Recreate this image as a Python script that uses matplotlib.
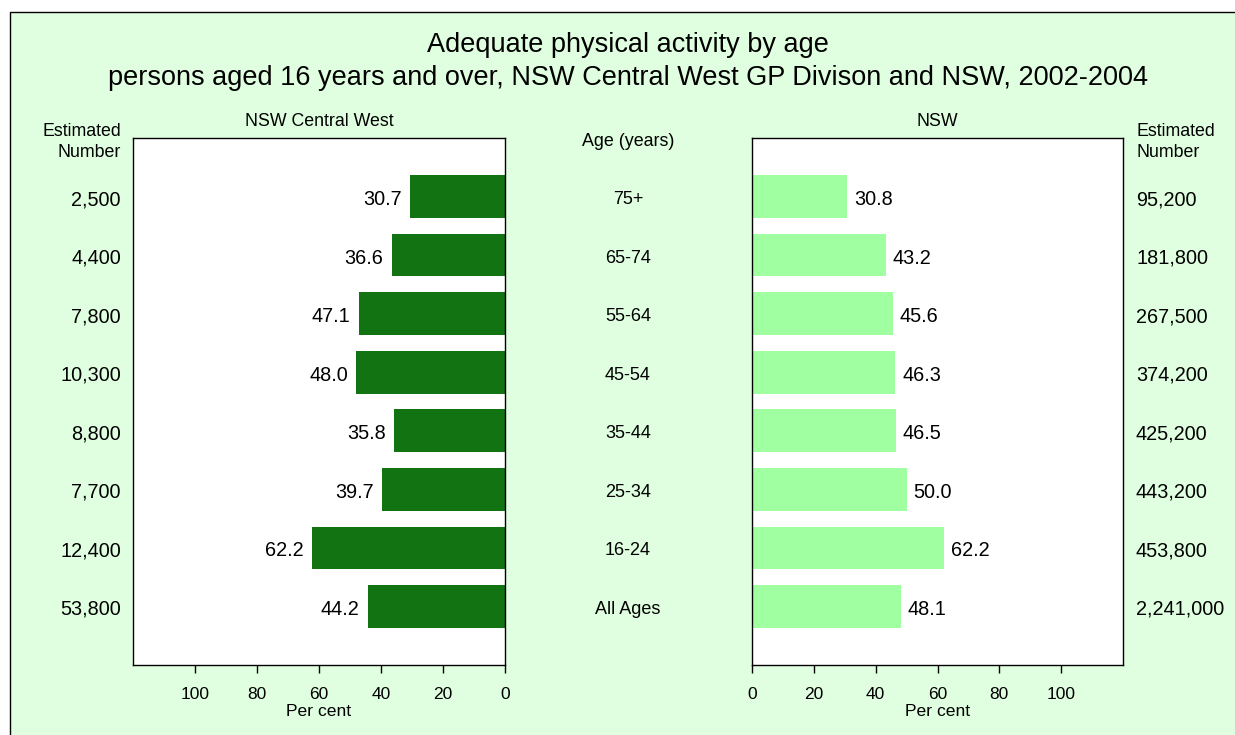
import matplotlib
matplotlib.use("Agg")
import matplotlib.pyplot as plt
from matplotlib.patches import Rectangle
from matplotlib.transforms import blended_transform_factory, ScaledTranslation

plt.rcParams['font.family'] = ['Liberation Sans', 'DejaVu Sans']

ages = ["75+", "65-74", "55-64", "45-54", "35-44", "25-34", "16-24", "All Ages"]
cw_pct = [30.7, 36.6, 47.1, 48.0, 35.8, 39.7, 62.2, 44.2]
nsw_pct = [30.8, 43.2, 45.6, 46.3, 46.5, 50.0, 62.2, 48.1]
cw_num = ["2,500", "4,400", "7,800", "10,300", "8,800", "7,700", "12,400", "53,800"]
nsw_num = ["95,200", "181,800", "267,500", "374,200", "425,200", "443,200", "453,800", "2,241,000"]
xticks = [0, 20, 40, 60, 80, 100]

W, H = 1235, 735
fig = plt.figure(figsize=(W / 100, H / 100), dpi=100)
fig.patch.set_facecolor("white")
bg = "#E0FFE0"
fig.patches.append(Rectangle((10 / W, -0.05), 1.2, 1 - 12 / H + 0.05,
                             transform=fig.transFigure, facecolor=bg,
                             edgecolor="black", linewidth=1.0, zorder=-10))

ax_l = fig.add_axes([133 / W, 70 / H, (505 - 133) / W, (665 - 138) / H])
ax_r = fig.add_axes([752 / W, 70 / H, (1123 - 752) / W, (665 - 138) / H])

ypos = list(range(len(ages)))
dark = "#127312"
light = "#A0FFA0"

ax_l.barh(ypos, cw_pct, height=0.73, color=dark)
ax_r.barh(ypos, nsw_pct, height=0.73, color=light)

for ax in (ax_l, ax_r):
    ax.set_facecolor("white")
    ax.set_ylim(len(ages), -1)
    ax.set_xlim(0, 120)
    ax.set_xticks(xticks)
    ax.set_xticklabels([str(t) for t in xticks], fontsize=12.5)
    ax.set_yticks([])
    ax.tick_params(axis="x", direction="out", length=6, width=1, pad=10)
    for s in ax.spines.values():
        s.set_linewidth(1.0)
    ax.set_xlabel("Per cent", fontsize=12.6, labelpad=1)
ax_l.invert_xaxis()

for y, v in zip(ypos, cw_pct):
    ax_l.annotate(f"{v:.1f}", (v, y), xytext=(-6, -2.2), textcoords="offset points",
                  ha="right", va="center", fontsize=14.3)
for y, v in zip(ypos, nsw_pct):
    ax_r.annotate(f"{v:.1f}", (v, y), xytext=(5, -2.2), textcoords="offset points",
                  ha="left", va="center", fontsize=14.3)

tr = blended_transform_factory(fig.transFigure, ax_l.transData) + \
    ScaledTranslation(0, -3 / 100, fig.dpi_scale_trans)
for y, a, n1, n2 in zip(ypos, ages, cw_num, nsw_num):
    fig.text(121 / W, y, n1, transform=tr, ha="right", va="center", fontsize=14.3)
    fig.text(628 / W, y, a, transform=tr, ha="center", va="center", fontsize=13)
    fig.text(1136 / W, y, n2, transform=tr, ha="left", va="center", fontsize=14.3)

fig.text(121 / W, 1 - 142 / H, "Estimated\nNumber", ha="right", va="center",
         fontsize=12.8, multialignment="right", linespacing=1.35)
fig.text(1136 / W, 1 - 142 / H, "Estimated\nNumber", ha="left", va="center",
         fontsize=12.8, multialignment="left", linespacing=1.35)
fig.text(628 / W, 1 - 142 / H, "Age (years)", ha="center", va="center", fontsize=12.9)
fig.text(319 / W, 1 - 122 / H, "NSW Central West", ha="center", va="center", fontsize=12.8)
fig.text(937 / W, 1 - 122 / H, "NSW", ha="center", va="center", fontsize=12.8)

fig.text(628 / W, 1 - 45 / H, "Adequate physical activity by age", ha="center",
         va="center", fontsize=19.5)
fig.text(628 / W, 1 - 78 / H,
         "persons aged 16 years and over, NSW Central West GP Divison and NSW, 2002-2004",
         ha="center", va="center", fontsize=19.5)

fig.savefig("out.png", dpi=100, facecolor=fig.get_facecolor())
